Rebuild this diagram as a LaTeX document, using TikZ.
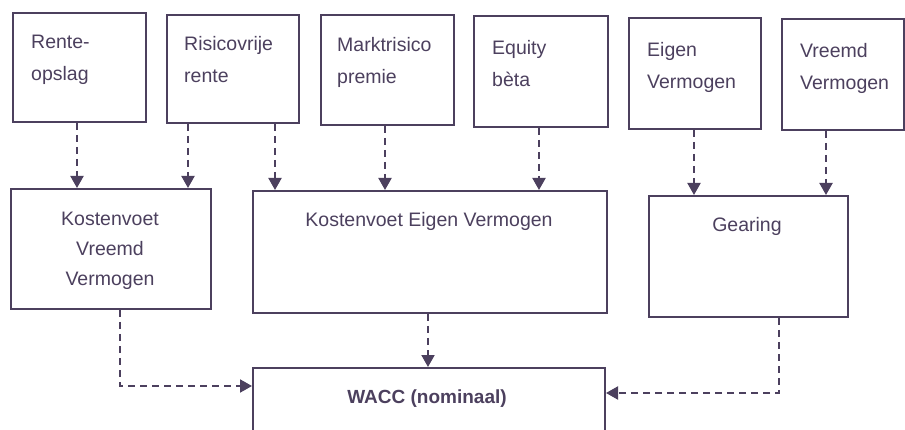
\documentclass[tikz,border=0pt]{standalone}
\usepackage{fontspec}
\setmainfont{Liberation Sans}
\usetikzlibrary{arrows.meta}
\definecolor{ink}{RGB}{76,64,94}
\begin{document}
\begin{tikzpicture}[x=1pt,y=-1pt,
  box/.style={draw=ink, line width=2pt, inner sep=0pt, anchor=north west},
  lbl/.style={text=ink, inner sep=0pt, align=left, anchor=north west, font=\fontsize{19.5}{32}\selectfont},
  ctr/.style={text=ink, inner sep=0pt, align=center, anchor=north, font=\fontsize{19.5}{30}\selectfont},
  link/.style={draw=ink, line width=2pt, dash pattern=on 7pt off 5pt, -{Triangle[width=13pt,length=12pt]}}]
\useasboundingbox (0,0) rectangle (905,430);
\fill[white] (0,0) rectangle (905,430);
\clip (0,0) rectangle (905,430);
% top row
\node[box, minimum width=133pt, minimum height=109pt] (rente) at (12,12) {};
\node[box, minimum width=132pt, minimum height=108pt] (risico) at (166,14) {};
\node[box, minimum width=133pt, minimum height=110pt] (markt) at (320,14) {};
\node[box, minimum width=134pt, minimum height=111pt] (equity) at (473,15) {};
\node[box, minimum width=132pt, minimum height=111pt] (eigen) at (628,17) {};
\node[box, minimum width=122pt, minimum height=111pt] (vreemd) at (781,18) {};
\node[lbl] (t1) at (31,35) {Rente-\\opslag};
\node[lbl] (t2) at (184,36) {Risicovrije\\rente};
\node[lbl] (t3) at (337,37) {Marktrisico\\premie};
\node[lbl] (t4) at (492,40) {Equity\\bèta};
\node[lbl] (t5) at (647,42) {Eigen\\Vermogen};
\node[lbl] (t6) at (800,43) {Vreemd\\Vermogen};
% middle row
\node[box, minimum width=200pt, minimum height=120pt] (kvv) at (10,188) {};
\node[box, minimum width=354pt, minimum height=122pt] (kev) at (252,190) {};
\node[box, minimum width=199pt, minimum height=121pt] (gear) at (648,195) {};
\node[ctr] (t7) at (110,212) {Kostenvoet\\Vreemd\\Vermogen};
\node[ctr] (t8) at (429,212) {Kostenvoet Eigen Vermogen};
\node[ctr] (t9) at (747,217) {Gearing};
% bottom
\node[box, minimum width=352pt, minimum height=80pt] (wacc) at (252,367) {};
\node[ctr, font=\fontsize{19}{30}\selectfont\bfseries] (t10) at (427,390) {WACC (nominaal)};
% connectors
\draw[link] (77,0 |- rente.south) -- (77,0 |- kvv.north);
\draw[link] (188,0 |- risico.south) -- (188,0 |- kvv.north);
\draw[link] (275,0 |- risico.south) -- (275,0 |- kev.north);
\draw[link] (385,0 |- markt.south) -- (385,0 |- kev.north);
\draw[link] (539,0 |- equity.south) -- (539,0 |- kev.north);
\draw[link] (694,0 |- eigen.south) -- (694,0 |- gear.north);
\draw[link] (826,0 |- vreemd.south) -- (826,0 |- gear.north);
\draw[link] (120,0 |- kvv.south) |- (wacc.west |- 0,386);
\draw[link] (428,0 |- kev.south) -- (428,0 |- wacc.north);
\draw[link] (779,0 |- gear.south) |- (wacc.east |- 0,393);
\end{tikzpicture}
\end{document}
